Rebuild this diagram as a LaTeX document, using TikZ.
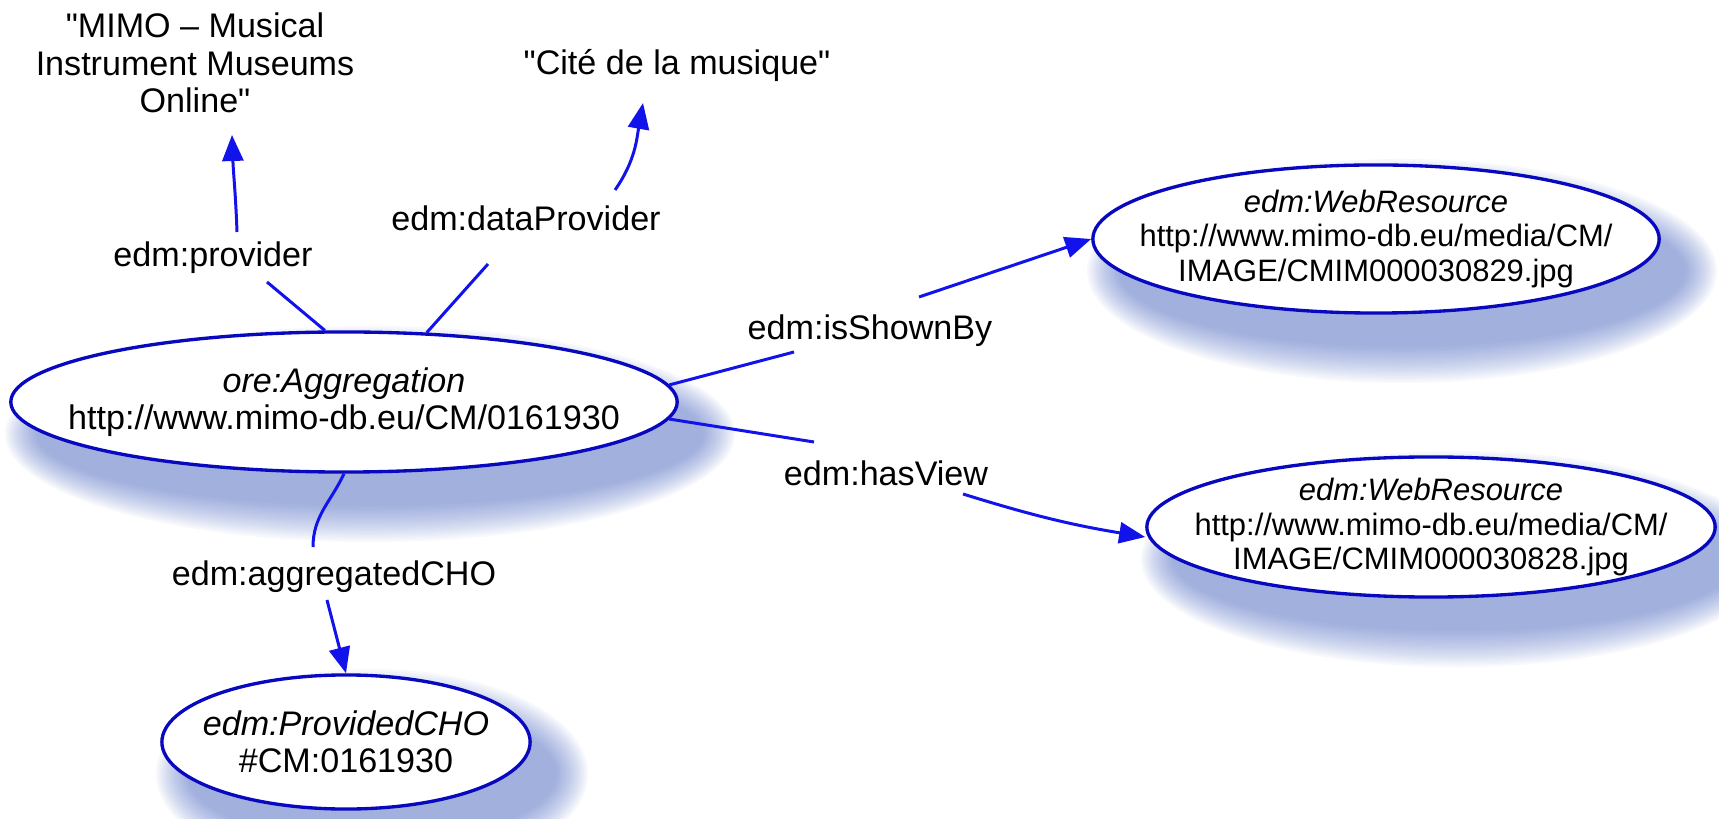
\documentclass[tikz,border=0pt]{standalone}
\usepackage{fontspec}
\newfontfamily\lib{Liberation Sans}
\usetikzlibrary{arrows.meta,shapes.geometric}
\definecolor{edgeblue}{RGB}{18,18,235}
\definecolor{nodeblue}{RGB}{8,8,190}
\definecolor{shadowc}{RGB}{80,110,200}
\newcommand{\shadowell}[4]{%
  \foreach \k in {0,...,15}{%
    \pgfmathsetmacro{\ra}{(#3+32-2.1*\k)*0.01}%
    \pgfmathsetmacro{\rb}{(#4+38-2.4*\k)*0.01}%
    \fill[shadowc,opacity=0.045] (#1+26,-#2-32) ellipse [x radius=\ra cm, y radius=\rb cm];%
  }}
\begin{document}
\begin{tikzpicture}[x=0.01cm,y=0.01cm,
  every node/.style={font=\lib},
  big/.style={font=\lib\fontsize{9.7pt}{10.6pt}\selectfont},
  small/.style={font=\lib\fontsize{8.8pt}{9.7pt}\selectfont},
  res/.style={ellipse, draw=nodeblue, line width=0.95pt, fill=white, inner sep=0pt},
  txt/.style={big, align=center, inner sep=0pt},
  edge/.style={draw=edgeblue, line width=0.85pt},
  arr/.style={edge, -{Triangle[length=0.26cm,width=0.21cm]}},
]
\fill[white] (0,0) rectangle (1719,-819);
\useasboundingbox (0,0) rectangle (1719,-819);

\shadowell{344}{402}{333}{70}
\shadowell{1376}{239}{283}{74}
\shadowell{1431}{527}{284}{70}
\shadowell{346}{742}{184}{67}

% resource nodes
\node[res, minimum width=6.66cm, minimum height=1.40cm] (agg) at (344,-402) {};
\node[txt] (aggt) at (agg) {\textit{ore:Aggregation}\\http://www.mimo-db.eu/CM/0161930};

\node[res, minimum width=5.66cm, minimum height=1.48cm] (web1) at (1376,-239) {};
\node[txt, small] (web1t) at (web1) {\textit{edm:WebResource}\\http://www.mimo-db.eu/media/CM/\\IMAGE/CMIM000030829.jpg};

\node[res, minimum width=5.68cm, minimum height=1.40cm] (web2) at (1431,-527) {};
\node[txt, small] (web2t) at (web2) {\textit{edm:WebResource}\\http://www.mimo-db.eu/media/CM/\\IMAGE/CMIM000030828.jpg};

\node[res, minimum width=3.68cm, minimum height=1.34cm] (cho) at (346,-742) {};
\node[txt] (chot) at (cho) {\textit{edm:ProvidedCHO}\\\#CM:0161930};

% literal nodes
\node[txt] (mimo) at (195,-63) {"MIMO – Musical\\Instrument Museums\\Online"};
\node[txt] (cite) at (677,-65) {"Cité de la musique"};

% property labels
\node[txt] (lprov) at (213,-258) {edm:provider};
\node[txt] (ldp) at (526,-218) {edm:dataProvider};
\node[txt] (lisb) at (870,-331) {edm:isShownBy};
\node[txt] (lhv) at (886,-473) {edm:hasView};
\node[txt] (lcho) at (334,-577) {edm:aggregatedCHO};

% connectors
\draw[edge] (agg.105) -- ([shift={(54,-24)}]lprov.center);
\draw[arr] ([shift={(24,26)}]lprov.center) to[out=92,in=-88] ([shift={(37,-72)}]mimo.center);

\draw[edge] (agg.40) -- ([shift={(-38,-46)}]ldp.center);
\draw[arr] ([shift={(89,28)}]ldp.center) to[out=55,in=-100] ([shift={(-34,-38)}]cite.center);

\draw[edge] (agg.3) -- ([shift={(-76,-21)}]lisb.center);
\draw[arr] ([shift={(49,34)}]lisb.center) -- (web1.west);

\draw[edge] (agg.-3) -- ([shift={(-72,31)}]lhv.center);
\draw[arr] ([shift={(77,-21)}]lhv.center) to[bend right=4] ([yshift=-0.1cm]web2.west);

\draw[edge] (agg.south) to[out=-115,in=90] ([shift={(-21,30)}]lcho.center);
\draw[arr] ([shift={(-7,-23)}]lcho.center) -- (cho.north);
\end{tikzpicture}
\end{document}
